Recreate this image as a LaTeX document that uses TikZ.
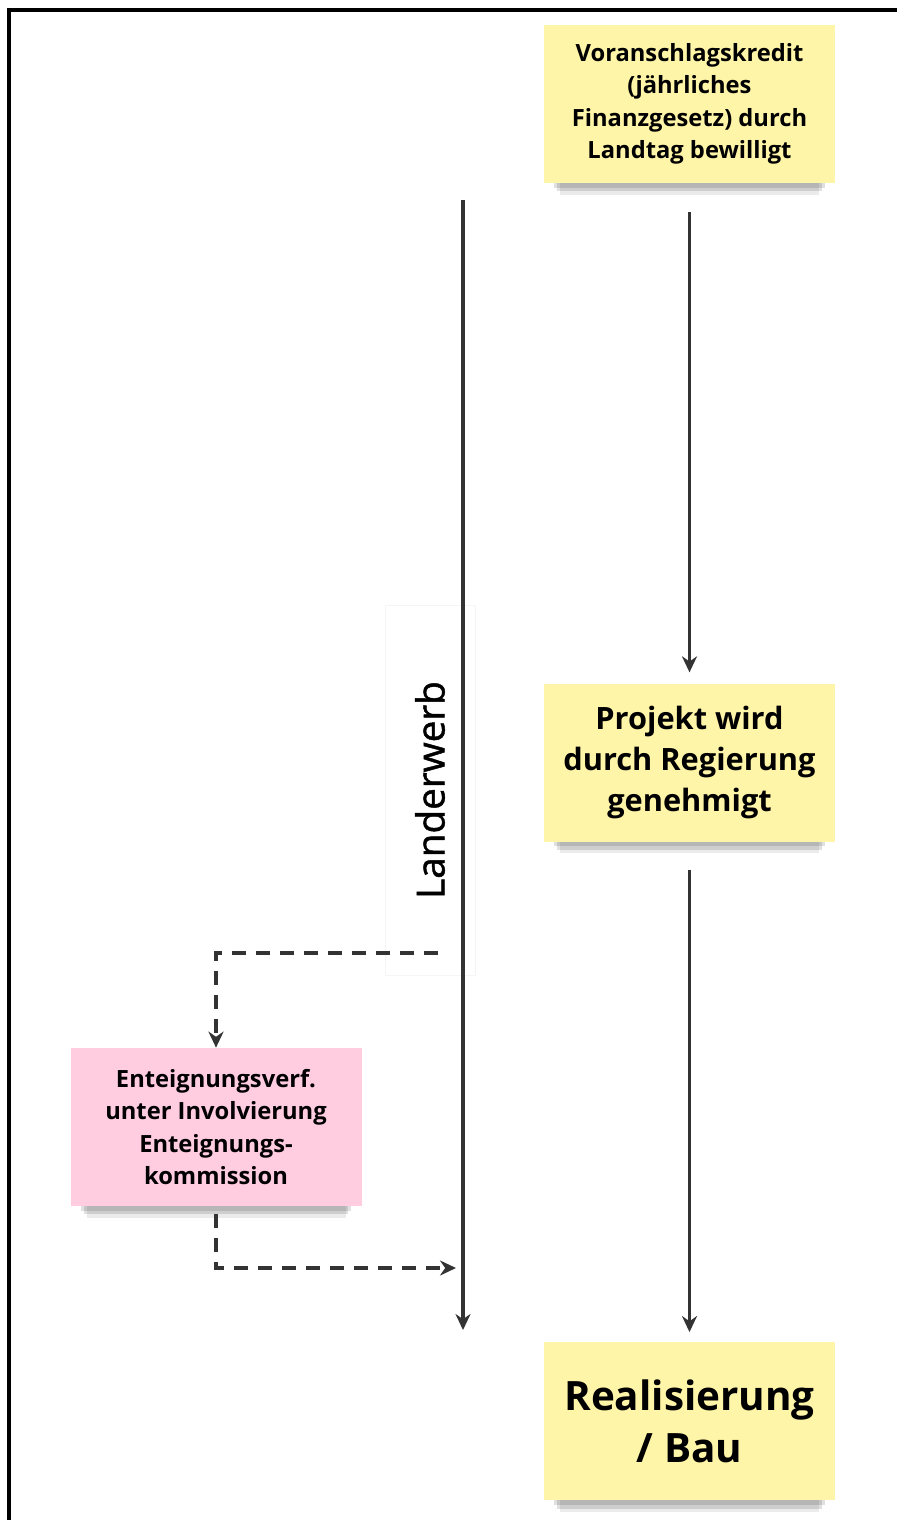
\documentclass[tikz,border=0pt]{standalone}
\usepackage{fontspec}
\setmainfont{Open Sans}
\newfontfamily\labelfont[FakeBold=1.2]{Open Sans}
\usepackage{tikz}
\usetikzlibrary{arrows.meta, positioning, shadows}

\begin{document}
\begin{tikzpicture}[
        node distance=10cm and 2cm,
        soft/.style={general shadow={fill=black, opacity=.12, shadow yshift=-0.22cm, shadow scale=.93},
                     general shadow={fill=black, opacity=.12, shadow yshift=-0.34cm, shadow scale=.91},
                     general shadow={fill=black, opacity=.08, shadow yshift=-0.46cm, shadow scale=.89}},
        note/.style={rectangle, fill=notey, soft, minimum width=5.82cm, minimum height=3.16cm, align=center, font=\bfseries},
        pinknote/.style={note, fill=notep},
        flow/.style={draw=linec, line width=2.2pt, -{Stealth[length=0.32cm, width=0.3cm]}},
        dflow/.style={flow, dash pattern=on 0.28cm off 0.2cm},
        >=Stealth
    ]
    \definecolor{notey}{HTML}{FFF5A8}
    \definecolor{notep}{HTML}{FFCCE0}
    \definecolor{linec}{HTML}{333333}

    % frame
    \useasboundingbox (0,0) rectangle (17.94,-30.4);
    \draw[line width=2pt] (0.18,-30.4) -- (0.18,-0.2) -- (17.94,-0.2);

    % Yellow notes on the right
    \node[note, font=\bfseries\fontsize{13.5}{18.5}\selectfont] (kredit) at (13.79,-2.08)
        {Voranschlagskredit\\(jährliches\\Finanzgesetz) durch\\Landtag bewilligt};
    \node[note, below=of kredit, font=\bfseries\fontsize{17.5}{23.5}\selectfont] (projekt)
        {Projekt wird\\durch Regierung\\genehmigt};
    \node[note, below=of projekt, font=\bfseries\fontsize{23}{30}\selectfont] (bau)
        {Realisierung\\/ Bau};

    % Pink note on the left
    \node[pinknote, font=\bfseries\fontsize{13.5}{18.5}\selectfont] (enteignung) at (4.32,-22.54)
        {Enteignungsverf.\\unter Involvierung\\Enteignungs-\\kommission};

    % Landerwerb line and label
    \coordinate (landtop) at (9.26,-4.0);
    \coordinate (landend) at (9.26,-26.6);
    \coordinate (split) at (8.76,-19.06);
    \coordinate (merge) at (9.12,-25.36);
    \node[draw=black!4, rotate=90, minimum width=7.4cm, minimum height=1.8cm,
          font=\labelfont\fontsize{22}{26}\selectfont] (landerwerb) at (8.6,-15.8) {Landerwerb};

    % Arrows between the yellow notes
    \draw[flow, shorten <=0.58cm, shorten >=0.22cm] (kredit.south) -- (projekt.north);
    \draw[flow, shorten <=0.56cm, shorten >=0.2cm] (projekt.south) -- (bau.north);

    % Landerwerb arrow
    \draw[flow] (landtop) -- (landend);

    % Dashed detour through the Enteignung
    \draw[dflow] (split) -| (enteignung.north);
    \draw[dflow, shorten <=0.16cm] (enteignung.south) |- (merge);

\end{tikzpicture}
\end{document}
